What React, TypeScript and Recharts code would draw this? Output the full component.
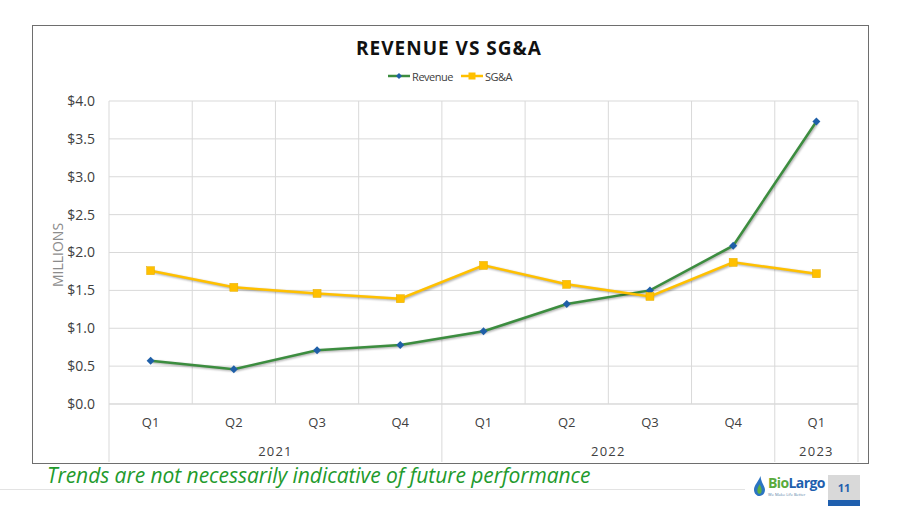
import React from "react";
import { LineChart, Line, XAxis, YAxis, CartesianGrid, Legend } from "recharts";

const quarters = ["Q1", "Q2", "Q3", "Q4", "Q1", "Q2", "Q3", "Q4", "Q1"];
const years = ["2021", "2021", "2021", "2021", "2022", "2022", "2022", "2022", "2023"];
const revenue = [0.57, 0.46, 0.71, 0.78, 0.96, 1.32, 1.5, 2.09, 3.73];
const sga = [1.76, 1.54, 1.46, 1.39, 1.83, 1.58, 1.42, 1.87, 1.72];
const yTicks = [0, 0.5, 1, 1.5, 2, 2.5, 3, 3.5, 4];

const data = quarters.map((q, i) => ({ quarter: q, year: years[i], revenue: revenue[i], sga: sga[i] }));

const GREEN = "#3c8d3f";
const BLUE = "#1f5fa8";
const GOLD = "#ffc000";
const FONT = "'Open Sans', sans-serif";

const W = 900;
const H = 506;
const MARGIN = { top: 101, right: 42, left: 39, bottom: 36 };
const Y_W = 70;
const PLOT_W = W - MARGIN.left - MARGIN.right - Y_W;
const HALF = PLOT_W / quarters.length / 2;

function Diamond(props: any) {
  const { cx, cy } = props;
  if (cx == null || cy == null) return null;
  return <path d={`M${cx},${cy - 4}L${cx + 4},${cy}L${cx},${cy + 4}L${cx - 4},${cy}Z`} fill={BLUE} />;
}

function Square(props: any) {
  const { cx, cy } = props;
  if (cx == null || cy == null) return null;
  return <rect x={cx - 4} y={cy - 4} width={8} height={8} fill={GOLD} stroke="#e6ad00" strokeWidth={0.5} />;
}

function YearTick(props: any) {
  const { x, y, payload } = props;
  const i = payload.index;
  const off = HALF;
  let s = i;
  while (s > 0 && years[s - 1] === years[i]) s--;
  let e = i;
  while (e < years.length - 1 && years[e + 1] === years[i]) e++;
  const mid = (s + e) / 2;
  const out: React.ReactNode[] = [];
  if (s === i) out.push(<line key="l" x1={x - off} x2={x - off} y1={y - 36} y2={y + 22} stroke="#d9d9d9" />);
  if (i === years.length - 1) out.push(<line key="r" x1={x + off} x2={x + off} y1={y - 36} y2={y + 22} stroke="#d9d9d9" />);
  if (i === Math.floor(mid)) {
    out.push(
      <text key="t" x={x + (mid - Math.floor(mid)) * 2 * off} y={y + 11} textAnchor="middle" dominantBaseline="central"
        fontSize={13} fill="#404040" letterSpacing={1.2} fontFamily={FONT}>
        {years[i]}
      </text>
    );
  }
  return <g>{out}</g>;
}

function LegendContent() {
  const item = (label: string, color: string, marker: React.ReactNode) => (
    <span style={{ display: "inline-flex", alignItems: "center", margin: "0 4px" }}>
      <svg width={22} height={8} style={{ marginRight: 2 }}>
        <line x1={0} x2={22} y1={4} y2={4} stroke={color} strokeWidth={2.5} />
        {marker}
      </svg>
      <span>{label}</span>
    </span>
  );
  return (
    <div style={{ textAlign: "center", fontFamily: FONT, fontSize: 11, letterSpacing: -0.5, color: "#404040" }}>
      {item("Revenue", GREEN, <path d="M11,1L14,4L11,7L8,4Z" fill={BLUE} />)}
      {item("SG&A", GOLD, <rect x={7.5} y={0.5} width={7} height={7} fill={GOLD} />)}
    </div>
  );
}

export default function App() {
  return (
    <div style={{ position: "absolute", left: 0, top: 0, width: W, height: H, background: "#fff", overflow: "hidden" }}>
      <style>{`.recharts-line{filter:drop-shadow(1.5px 1.5px 1px rgba(0,0,0,0.35));}`}</style>
      <div style={{ position: "absolute", left: 32, top: 25, width: 835, height: 437, border: "1px solid #6e6e6e" }} />
      <div style={{ position: "absolute", left: 0, top: 35, width: 898, textAlign: "center", fontFamily: FONT, fontWeight: 700,
        fontSize: 19, letterSpacing: 1, color: "#111" }}>
        REVENUE VS SG&amp;A
      </div>
      <div style={{ position: "absolute", left: 57, top: 255, transform: "translate(-50%,-50%) rotate(-90deg)", fontFamily: FONT,
        fontSize: 14, color: "#8c8c8c", whiteSpace: "nowrap" }}>
        MILLIONS
      </div>
      <div style={{ position: "absolute", left: 0, top: 0 }}>
        <LineChart width={W} height={H} data={data} margin={MARGIN}>
          <CartesianGrid stroke="#d9d9d9" horizontal={true}
            verticalCoordinatesGenerator={({ offset }: any) =>
              quarters.map((_, i) => offset.left + (i * offset.width) / quarters.length).concat(offset.left + offset.width)
            } />
          <XAxis dataKey="quarter" padding={{ left: HALF, right: HALF }} height={36} tickLine={false} tickSize={0}
            tickMargin={14} axisLine={{ stroke: "#d9d9d9" }} tick={{ fontSize: 13, fill: "#404040", fontFamily: FONT }}
            interval={0} />
          <XAxis xAxisId="year" dataKey="year" padding={{ left: HALF, right: HALF }} height={30} tickLine={false}
            axisLine={false} tickSize={0} tickMargin={0} interval={0} tick={<YearTick />} />
          <YAxis width={Y_W} domain={[0, 4]} ticks={yTicks} axisLine={false} tickLine={false} tickSize={0} tickMargin={14}
            tickFormatter={(v: number) => `$${v.toFixed(1)}`} tick={{ fontSize: 14, fill: "#404040", fontFamily: FONT }} />
          <Legend verticalAlign="middle" content={<LegendContent />} wrapperStyle={{ top: 68, left: 0, width: W }} />
          <Line dataKey="revenue" name="Revenue" stroke={GREEN} strokeWidth={2.5} dot={<Diamond />} activeDot={false}
            isAnimationActive={false} />
          <Line dataKey="sga" name="SG&A" stroke={GOLD} strokeWidth={2.5} dot={<Square />} activeDot={false}
            isAnimationActive={false} />
        </LineChart>
      </div>
      <div style={{ position: "absolute", left: 47, top: 461, fontFamily: FONT, fontStyle: "italic", fontSize: 21,
        color: "#229a2c", whiteSpace: "nowrap", letterSpacing: -0.05 }}>
        Trends are not necessarily indicative of future performance
      </div>
      <div style={{ position: "absolute", left: 0, top: 489, width: 745, height: 1, background: "#e3e3e3" }} />
      <div style={{ position: "absolute", left: 753, top: 475, display: "flex", alignItems: "center" }}>
        <svg width={13} height={22} viewBox="0 0 14 24">
          <path d="M8,1 C6,7 1,11 1,16 C1,20 4,23 7,23 C10,23 13,20 13,16 C13,12 9,9 8,1Z" fill="#2b74c2" />
          <path d="M7,10 C5,14 4,16 5,19 C6,21 8,21 9,19 C10,16 9,13 7,10Z" fill="#5fb040" />
        </svg>
        <div style={{ marginLeft: 2 }}>
          <div style={{ fontFamily: FONT, fontWeight: 700, fontSize: 14, letterSpacing: -0.6, lineHeight: "16px" }}>
            <span style={{ color: "#5aab3c" }}>Bio</span>
            <span style={{ color: "#1f5fae" }}>Largo</span>
          </div>
          <div style={{ fontFamily: FONT, fontSize: 4, lineHeight: "5px", marginTop: 1, color: "#5a7fa8" }}>
            We Make Life Better
          </div>
        </div>
      </div>
      <div style={{ position: "absolute", left: 828, top: 475, width: 32, height: 25, background: "#d9d9d9", color: "#1f5fae",
        fontFamily: FONT, fontWeight: 700, fontSize: 11, display: "flex", alignItems: "center", justifyContent: "center" }}>
        11
      </div>
      <div style={{ position: "absolute", left: 828, top: 500, width: 32, height: 6, background: "#1f5fae" }} />
    </div>
  );
}
